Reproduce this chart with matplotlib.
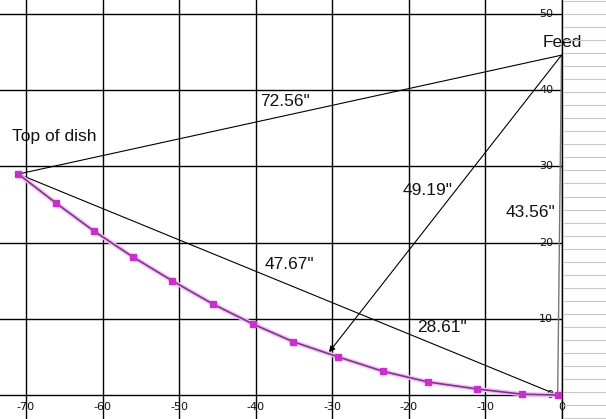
import numpy as np
import matplotlib.pyplot as plt

plt.rcParams['axes.unicode_minus'] = False

# profil czaszy
dish_x = [-71.0, -66.1, -61.1, -56.0, -50.9, -45.5, -40.3, -35.1, -29.2, -23.3, -17.4, -11.1, -5.1, -0.5]
dish_y = [29.0, 25.2, 21.5, 18.1, 15.0, 11.9, 9.3, 7.0, 5.0, 3.1, 1.7, 0.8, 0.1, 0.0]

feed = (0.0, 44.6)
top = (-71.0, 29.0)
vertex = (-0.5, 0.0)
arrow_tip = (-30.4, 5.6)

x_ticks = [-70, -60, -50, -40, -30, -20, -10, 0]
y_ticks = [0, 10, 20, 30, 40, 50]

labels = [
    ("Feed", 0.1, 46.2),
    ("Top of dish", -66.3, 33.9),
    ('72.56"', -36.1, 38.5),
    ('49.19"', -17.5, 26.9),
    ('43.56"', -4.1, 24.0),
    ('47.67"', -35.6, 17.1),
    ('28.61"', -15.6, 8.9),
]

W, H = 606, 419
fig = plt.figure(figsize=(W / 100, H / 100), dpi=100)
ax = fig.add_axes([0, 0, 561.5 / W, 1])
ax.set_xlim(-73.4, 0)
ax.set_ylim(-3.15, 51.84)

ax.set_xticks(x_ticks)
ax.set_yticks(y_ticks)
ax.set_xticklabels([str(v) for v in x_ticks])
ax.set_yticklabels([str(v) for v in y_ticks])
ax.grid(True, color='black', lw=1.0)
ax.set_axisbelow(True)
for s in ['left', 'top', 'bottom']:
    ax.spines[s].set_visible(False)
ax.spines['right'].set_color('black')
ax.spines['right'].set_linewidth(1.0)

ax.yaxis.tick_right()
ax.tick_params(axis='x', length=0, pad=-12.5, labelsize=8, labelcolor='#111111')
ax.tick_params(axis='y', length=0, pad=-6, labelsize=8, labelcolor='#111111',
               labelright=True, labelleft=False)
plt.setp(ax.get_yticklabels(), ha='right', va='center')

# linie pomocnicze
ax.plot([top[0], feed[0]], [top[1], feed[1]], color='black', lw=0.8)
ax.plot([top[0], vertex[0]], [top[1], vertex[1]], color='black', lw=0.8)
ax.plot([feed[0], vertex[0]], [feed[1], vertex[1]], color='#777777', lw=1.0, clip_on=False)
ax.annotate('', xy=arrow_tip, xytext=feed,
            arrowprops=dict(arrowstyle='-|>', color='black', lw=0.8,
                            mutation_scale=9, shrinkA=0, shrinkB=0))

# czasza
ax.plot(dish_x, dish_y, color='#f6bcf6', lw=3.2, solid_capstyle='round', zorder=3, clip_on=False)
ax.plot(dish_x, dish_y, color='#7e3490', lw=1.2, marker='s', ms=4.5,
        mfc='#d22ad2', mec='#d22ad2', zorder=4, clip_on=False)

for txt, tx, ty in labels:
    ax.text(tx, ty, txt, ha='center', va='center', fontsize=12.5,
            family='Liberation Sans', color='#111111', zorder=5)

# tlo arkusza po prawej
side = fig.add_axes([563 / W, 0, (W - 563) / W, 1])
side.set_xlim(0, 1)
side.set_ylim(H, 0)
side.axis('off')
rows = np.arange(1.5, H, 13.0)
side.hlines(rows, 0, 1, color='#c8c8c8', lw=0.8)

fig.savefig('out.png', dpi=100)
